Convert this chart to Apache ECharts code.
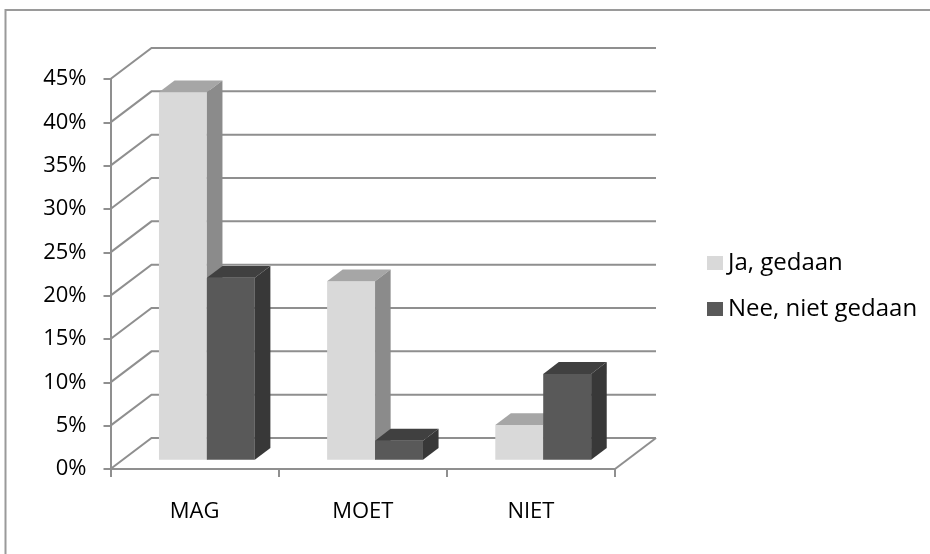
<!DOCTYPE html>
<html><head><meta charset="utf-8">
<script src="https://cdn.jsdelivr.net/npm/echarts@6/dist/echarts.min.js"></script>
<style>html,body{margin:0;padding:0;background:#fff}#c{width:930px;height:554px}</style>
</head><body><div id="c"></div>
<script>
// ---- data ----
const categories = ['MAG', 'MOET', 'NIET'];
const seriesNames = ['Ja, gedaan', 'Nee, niet gedaan'];
const jaValues = [42.4, 20.6, 4.0];
const neeValues = [21.0, 2.2, 9.9];
const yTicks = [0, 5, 10, 15, 20, 25, 30, 35, 40, 45];

// ---- styling / geometry ----
const LINE = '#8f8f8f';
const FONT = 'Open Sans';
const DX = 41, DY = -31;          // wall depth offset
const DEPTH_START = 0.3, DEPTH = 0.38, BAR_FRAC = 0.285;
const jaColors = ['#d9d9d9', '#a6a6a6', '#8b8b8b'];
const neeColors = ['#595959', '#404040', '#383838'];

function barRenderer(side, colors) {
  return function (params, api) {
    const cat = api.value(0), val = api.value(1);
    const top = api.coord([cat, val]);
    const base = api.coord([cat, 0]);
    const w = api.size([1, 0])[0] * BAR_FRAC;
    const ox = DX * DEPTH_START, oy = DY * DEPTH_START;
    const x0 = top[0] + ox + (side === 0 ? -w : 0);
    const x1 = x0 + w;
    const yT = top[1] + oy, yB = base[1] + oy;
    const dx = DX * DEPTH, dy = DY * DEPTH;
    return {
      type: 'group', children: [
        { type: 'polygon', shape: { points: [[x0, yB], [x1, yB], [x1, yT], [x0, yT]] }, style: { fill: colors[0] } },
        { type: 'polygon', shape: { points: [[x0, yT], [x1, yT], [x1 + dx, yT + dy], [x0 + dx, yT + dy]] }, style: { fill: colors[1] } },
        { type: 'polygon', shape: { points: [[x1, yB], [x1 + dx, yB + dy], [x1 + dx, yT + dy], [x1, yT]] }, style: { fill: colors[2] } }
      ]
    };
  };
}

function wallRenderer(params, api) {
  const v = api.value(1);
  const cs = params.coordSys;
  const y = api.coord([0, v])[1];
  const xL = cs.x, xR = cs.x + cs.width;
  const children = [{
    type: 'polyline',
    shape: { points: [[xL, y], [xL + DX, y + DY], [xR + DX, y + DY]] },
    style: { stroke: LINE, lineWidth: 2, fill: null }
  }];
  if (v === 0) {
    children.push({ type: 'line', shape: { x1: xR, y1: y, x2: xR + DX, y2: y + DY }, style: { stroke: LINE, lineWidth: 2 } });
  }
  return { type: 'group', children };
}

const chart = echarts.init(document.getElementById('c'), null, { renderer: 'canvas' });
chart.setOption({
  animation: false,
  backgroundColor: '#fff',
  graphic: [{
    type: 'rect', silent: true, z: 0,
    shape: { x: 5.5, y: 10, width: 1000, height: 1000 },
    style: { fill: null, stroke: '#9a9a9a', lineWidth: 2 }
  }],
  grid: { left: 110.5, top: 79, width: 504.5, height: 390 },
  xAxis: {
    type: 'category', data: categories,
    axisLine: { show: true, lineStyle: { color: LINE, width: 2 } },
    axisTick: { show: true, length: 8, lineStyle: { color: LINE, width: 2 } },
    axisLabel: { color: '#000', fontFamily: FONT, fontSize: 22, margin: 32 },
    splitLine: { show: false }
  },
  yAxis: {
    type: 'value', min: 0, max: 45, interval: 5,
    axisLine: { show: true, lineStyle: { color: LINE, width: 2 } },
    axisTick: { show: true, length: 7, lineStyle: { color: LINE, width: 2 } },
    axisLabel: { color: '#000', fontFamily: FONT, fontSize: 22, margin: 24, formatter: '{value}%', padding: [4, 0, 0, 0] },
    splitLine: { show: false }
  },
  legend: {
    data: seriesNames, orient: 'vertical', left: 707, top: 251, padding: 0,
    icon: 'rect', itemWidth: 16, itemHeight: 14, itemGap: 22,
    textStyle: { color: '#000', fontFamily: FONT, fontSize: 24 }
  },
  series: [
    {
      type: 'custom', name: 'wall', silent: true, z: 1,
      data: yTicks.map(v => [0, v]),
      encode: { x: 0, y: 1 },
      renderItem: wallRenderer
    },
    {
      type: 'custom', name: seriesNames[0], z: 3,
      itemStyle: { color: jaColors[0] },
      data: jaValues.map((v, i) => [i, v]),
      encode: { x: 0, y: 1 },
      renderItem: barRenderer(0, jaColors)
    },
    {
      type: 'custom', name: seriesNames[1], z: 4,
      itemStyle: { color: neeColors[0] },
      data: neeValues.map((v, i) => [i, v]),
      encode: { x: 0, y: 1 },
      renderItem: barRenderer(1, neeColors)
    }
  ]
});
</script>
</body></html>
